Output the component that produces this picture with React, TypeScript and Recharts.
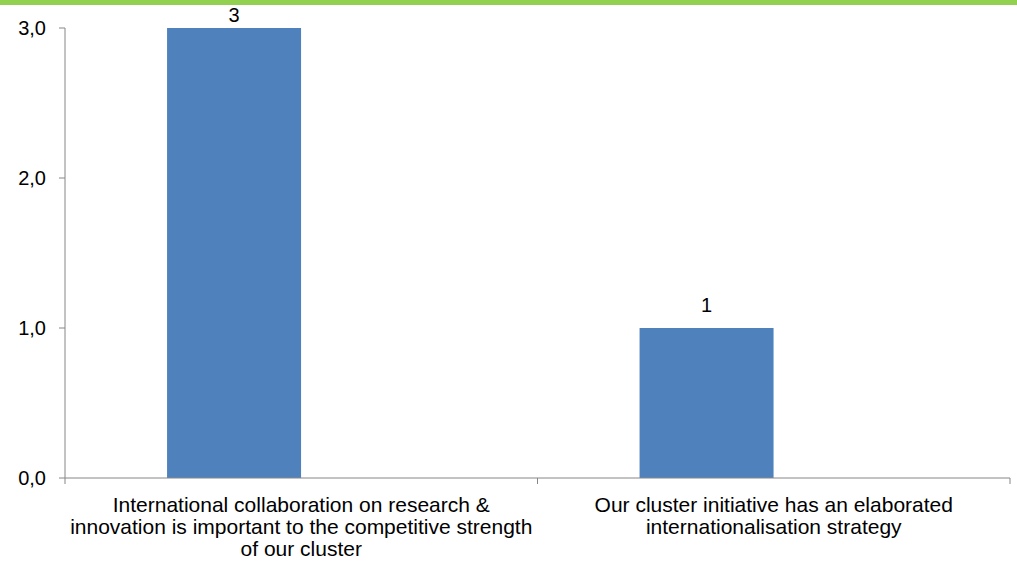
import { BarChart, Bar, XAxis, YAxis, LabelList } from "recharts";

const categories = [
  "International collaboration on research & innovation is important to the competitive strength of our cluster",
  "Our cluster initiative has an elaborated internationalisation strategy",
];
const labelLines = [
  ["International collaboration on research &", "innovation is important to the competitive strength", "of our cluster"],
  ["Our cluster initiative has an elaborated", "internationalisation strategy"],
];
const answers = [3, 1];
const otherAnswers: (number | null)[] = [null, null];
const yTicks = [0, 1, 2, 3];

const data = categories.map((c, i) => ({
  name: c,
  value: answers[i],
  other: otherAnswers[i],
}));

const AXIS = "#868686";
const FONT = "'Liberation Sans', Arial, sans-serif";

function CategoryTick(props: any) {
  const { x, y, payload, index, width } = props;
  const band = width / categories.length;
  const lines = labelLines[index] ?? [payload.value];
  const left = x - band / 2;
  return (
    <g>
      <line x1={left} x2={left} y1={y - 8} y2={y - 2} stroke={AXIS} />
      {index === categories.length - 1 && (
        <line x1={left + band} x2={left + band} y1={y - 8} y2={y - 2} stroke={AXIS} />
      )}
      <text x={x} y={y} textAnchor="middle" fontSize={21} fill="#000" fontFamily={FONT}>
        {lines.map((l: string, i: number) => (
          <tspan key={i} x={x} dy={i === 0 ? 26 : 22}>
            {l}
          </tspan>
        ))}
      </text>
    </g>
  );
}

// value label above the bar, kept inside the chart below the green strip
function ValueLabel(props: any) {
  const { x, y, width, value } = props;
  const baseline = Math.max(y - 16, 22);
  return (
    <text x={x + width / 2} y={baseline} textAnchor="middle" fontSize={20} fill="#000" fontFamily={FONT}>
      {value}
    </text>
  );
}

export default function App() {
  return (
    <div style={{ position: "absolute", left: 0, top: 0, width: 1017, height: 564, background: "#fff" }}>
      <div style={{ position: "absolute", left: 0, top: 0, width: 1017, height: 5, background: "#92D050" }} />
      <BarChart
        width={1017}
        height={564}
        data={data}
        margin={{ top: 28, right: 7, left: 0, bottom: 0 }}
        barGap={0}
        barCategoryGap="21.6%"
      >
        <XAxis
          dataKey="name"
          height={86}
          stroke={AXIS}
          tickLine={false}
          interval={0}
          tick={<CategoryTick />}
        />
        <YAxis
          domain={[0, 3]}
          ticks={yTicks}
          width={65}
          stroke={AXIS}
          tickSize={6}
          tickMargin={13}
          tick={{ fontSize: 20, fill: "#000", fontFamily: FONT }}
          tickFormatter={(v: number) => v.toFixed(1).replace(".", ",")}
        />
        <Bar dataKey="value" fill="#4F81BD" isAnimationActive={false}>
          <LabelList dataKey="value" content={<ValueLabel />} />
        </Bar>
        <Bar dataKey="other" fill="#C0504D" isAnimationActive={false} />
      </BarChart>
    </div>
  );
}
